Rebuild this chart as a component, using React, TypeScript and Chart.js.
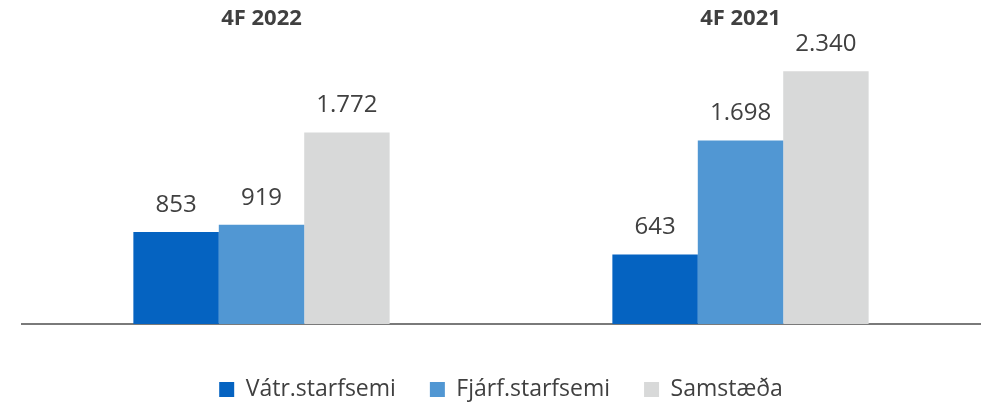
import React, { useEffect, useRef } from "react";
import { Chart, registerables } from "chart.js";

Chart.register(...registerables);

const categories = ["4F 2022", "4F 2021"];
const seriesNames = ["Vátr.starfsemi", "Fjárf.starfsemi", "Samstæða"];
const vatrValues = [853, 643];
const fjarfValues = [919, 1698];
const samstaedaValues = [1772, 2340];
const seriesColors = ["#0563C1", "#5197D3", "#D8D9D9"];
const yMax = 3000;

const TEXT_COLOR = "#404040";
const FONT = "'Open Sans', sans-serif";

function fmt(v: number): string {
  return Math.round(v)
    .toString()
    .replace(/\B(?=(\d{3})+(?!\d))/g, ".");
}

const labelsPlugin = {
  id: "customLabels",
  afterDatasetsDraw(chart: any) {
    const ctx = chart.ctx;
    ctx.save();
    ctx.fillStyle = TEXT_COLOR;
    ctx.textAlign = "center";
    ctx.textBaseline = "middle";
    ctx.font = `24px ${FONT}`;
    chart.data.datasets.forEach((ds: any, di: number) => {
      const meta = chart.getDatasetMeta(di);
      meta.data.forEach((el: any, i: number) => {
        ctx.fillText(fmt(ds.data[i]), el.x, el.y - 27);
      });
    });
    ctx.font = `bold 22px ${FONT}`;
    const xs = chart.scales.x;
    categories.forEach((c, i) => {
      ctx.fillText(c, xs.getPixelForValue(i), 19);
    });
    ctx.restore();
  },
};

export default function App() {
  const ref = useRef<HTMLCanvasElement>(null);
  useEffect(() => {
    if (!ref.current) return;
    const chart = new Chart(ref.current, {
      type: "bar",
      data: {
        labels: categories,
        datasets: [
          { label: seriesNames[0], data: vatrValues, backgroundColor: seriesColors[0] },
          { label: seriesNames[1], data: fjarfValues, backgroundColor: seriesColors[1] },
          { label: seriesNames[2], data: samstaedaValues, backgroundColor: seriesColors[2] },
        ],
      },
      options: {
        animation: false,
        responsive: false,
        maintainAspectRatio: false,
        layout: { padding: { left: 22, right: 2, top: 0, bottom: -7 } },
        datasets: {
          bar: { barPercentage: 1, categoryPercentage: 0.535 },
        },
        plugins: {
          tooltip: { enabled: false },
          legend: {
            position: "bottom",
            labels: {
              color: TEXT_COLOR,
              font: { family: FONT, size: 23 },
              boxWidth: 15,
              boxHeight: 15,
              padding: 34,
            },
          },
        },
        scales: {
          x: {
            grid: { display: false },
            ticks: { display: false },
            border: { display: true, color: "#7a7a7a", width: 2 },
            afterFit: (scale: any) => {
              scale.height = 20;
            },
          },
          y: {
            display: false,
            min: 0,
            max: yMax,
          },
        },
      },
      plugins: [labelsPlugin],
    });
    return () => chart.destroy();
  }, []);
  return (
    <div style={{ position: "fixed", left: 0, top: 0, width: 982, height: 404, background: "#fff" }}>
      <canvas ref={ref} width={982} height={404} style={{ display: "block" }} />
    </div>
  );
}
